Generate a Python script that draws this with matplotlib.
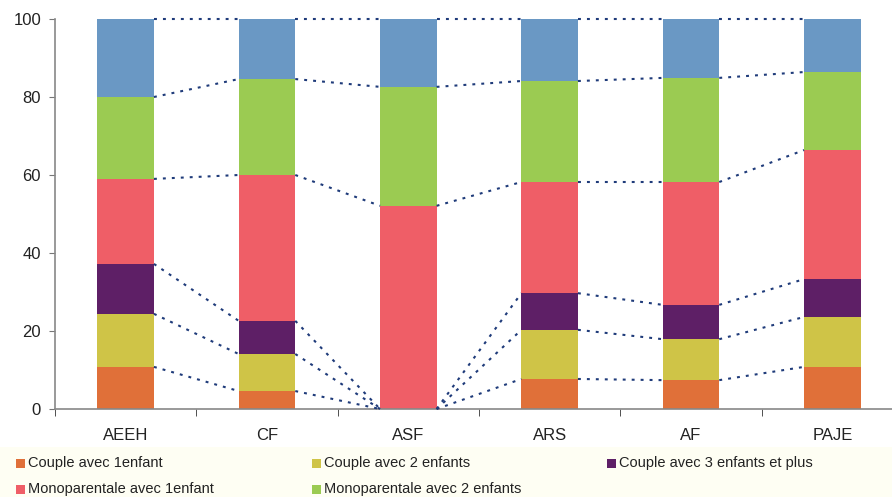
import matplotlib
matplotlib.use("Agg")
import matplotlib.pyplot as plt
from matplotlib.patches import Rectangle
import numpy as np

categories = ["AEEH", "CF", "ASF", "ARS", "AF", "PAJE"]
series_labels = ["Couple avec 1enfant", "Couple avec 2 enfants", "Couple avec 3 enfants et plus",
                 "Monoparentale avec 1enfant", "Monoparentale avec 2 enfants",
                 "Monoparentale avec 3 enfants et plus"]
couple_1 = [10.8, 4.6, 0.0, 7.7, 7.4, 10.8]
couple_2 = [13.6, 9.5, 0.0, 12.6, 10.5, 12.8]
couple_3 = [12.8, 8.5, 0.0, 9.4, 8.8, 9.7]
mono_1 = [21.8, 37.4, 52.1, 28.5, 31.5, 33.1]
mono_2 = [21.0, 24.6, 30.5, 25.9, 26.7, 20.0]
mono_3 = [20.0, 15.4, 17.4, 15.9, 15.1, 13.6]
colors = ["#E07039", "#CFC447", "#5E1F66", "#EF5E67", "#9BCB52", "#6A98C4"]
y_ticks = [0, 20, 40, 60, 80, 100]

series = [couple_1, couple_2, couple_3, mono_1, mono_2, mono_3]

plt.rcParams['font.family'] = ['Liberation Sans', 'DejaVu Sans']
fig = plt.figure(figsize=(8.92, 4.97), dpi=100)
ax = fig.add_axes([55/892, 88/497, (903-55)/892, 390/497])

x = np.arange(len(categories))
w = 0.4
bottom = np.zeros(len(categories))
tops = []
for vals, c, lab in zip(series, colors, series_labels):
    v = np.array(vals)
    ax.bar(x, v, w, bottom=bottom, color=c, label=lab, zorder=2)
    bottom = bottom + v
    tops.append(bottom.copy())

for t in tops:
    for i in range(len(categories) - 1):
        ax.plot([x[i] + w/2, x[i+1] - w/2], [t[i], t[i+1]], color="#1F3B7A",
                lw=1.5, linestyle=(0, (1.4, 2.9)), zorder=3, clip_on=False)

ax.set_xlim(-0.5, len(categories) - 0.5)
ax.set_ylim(0, 100)
ax.set_yticks(y_ticks)
ax.set_xticks(x)
ax.set_xticklabels(categories)
ax.set_xticks(np.arange(-0.5, len(categories) - 0.5, 1), minor=True)
ax.tick_params(axis='x', which='major', length=0, pad=14, labelsize=12, colors='#222222')
ax.tick_params(axis='x', which='minor', length=5, direction='out', color='#333333')
ax.tick_params(axis='y', length=4, direction='out', labelsize=12, color='#777777', labelcolor='#222222', pad=6)
for s in ['top', 'right']:
    ax.spines[s].set_visible(False)
ax.spines['left'].set_color('#888888')
ax.spines['bottom'].set_color('#888888')
ax.spines['left'].set_linewidth(1.2)
ax.spines['bottom'].set_linewidth(1.2)

# legend
fig.patches.append(Rectangle((0, 0), 1, 50/497, transform=fig.transFigure,
                             facecolor="#FEFEF3", edgecolor='none', zorder=0))
col_x = [16, 312, 607]
row_y = [497-463, 497-489]
for k in range(5):
    r, cidx = divmod(k, 3)
    px, py = col_x[cidx], row_y[r]
    fig.patches.append(Rectangle((px/892, (py-4.5)/497), 9/892, 9/497, transform=fig.transFigure,
                                 facecolor=colors[k], edgecolor='none', zorder=1))
    fig.text((px+12)/892, py/497, series_labels[k], fontsize=10.5, va='center', ha='left', color='#222222')

fig.savefig("out.png", dpi=100)
